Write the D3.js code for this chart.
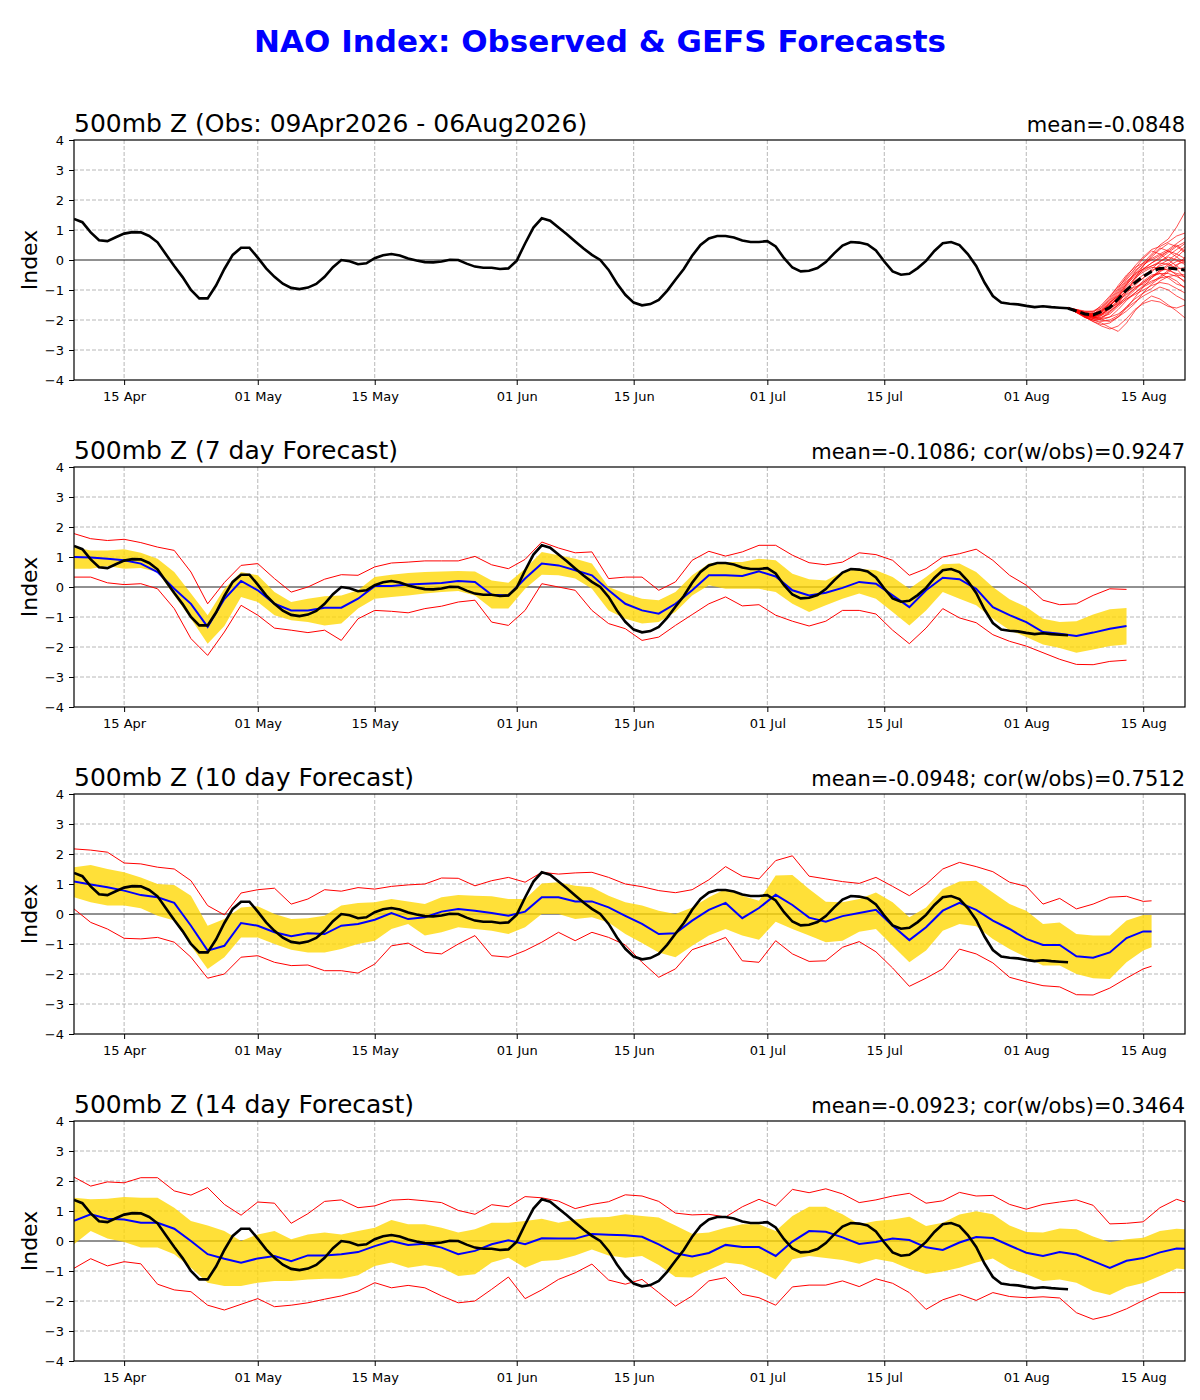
<!DOCTYPE html>
<html>
<head>
<meta charset="utf-8">
<script src="https://cdn.jsdelivr.net/npm/d3@7"></script>
<style>
body { margin: 0; background: #fff; }
svg { font-family: "DejaVu Sans", sans-serif; }
</style>
</head>
<body>
<svg id="chart" width="1200" height="1400"></svg>
<script>
// day 0 = 09 Apr 2026, axis runs to day 133 (20 Aug)
const startDay = Date.UTC(2026, 3, 9);
const lastDay = 133;
const tickLabels = ["2026-04-15", "2026-05-01", "2026-05-15", "2026-06-01", "2026-06-15",
                    "2026-07-01", "2026-07-15", "2026-08-01", "2026-08-15"];

// observed NAO, daily 09Apr - 06Aug
const obs = [
  1.37, 1.26, 0.92, 0.66, 0.63, 0.76, 0.88, 0.93, 0.92, 0.80,
  0.59, 0.19, -0.20, -0.57, -1.00, -1.28, -1.28, -0.85, -0.30, 0.17,
  0.41, 0.41, 0.08, -0.28, -0.56, -0.79, -0.93, -0.97, -0.92, -0.80,
  -0.56, -0.24, 0.00, -0.04, -0.14, -0.11, 0.06, 0.16, 0.20, 0.15,
  0.05, -0.02, -0.07, -0.08, -0.05, 0.01, 0.00, -0.12, -0.22, -0.26,
  -0.26, -0.30, -0.28, -0.02, 0.55, 1.08, 1.39, 1.31, 1.08, 0.86,
  0.62, 0.38, 0.17, 0.00, -0.33, -0.78, -1.16, -1.42, -1.51, -1.47,
  -1.33, -1.03, -0.66, -0.30, 0.14, 0.50, 0.72, 0.80, 0.80, 0.75,
  0.65, 0.60, 0.60, 0.63, 0.45, 0.06, -0.25, -0.38, -0.36, -0.27,
  -0.07, 0.22, 0.48, 0.60, 0.58, 0.52, 0.32, -0.05, -0.38, -0.49,
  -0.46, -0.27, -0.03, 0.30, 0.56, 0.60, 0.50, 0.20, -0.20, -0.75,
  -1.20, -1.42, -1.46, -1.48, -1.53, -1.57, -1.54, -1.57, -1.59, -1.61
];

// GEFS ensemble from day 119 (06Aug) to day 133
const ensStart = 119;
const ensMean = [-1.61, -1.70, -1.80, -1.83, -1.72, -1.58, -1.30, -1.00, -0.76, -0.55, -0.38, -0.28, -0.27, -0.30, -0.33];
const ensMembers = [
  [-1.6, -1.70, -1.85, -1.90, -1.80, -1.55, -1.20, -0.80, -0.40, -0.10, 0.20, 0.50, 0.70, 1.10, 1.60],
  [-1.6, -1.75, -1.90, -2.00, -2.10, -2.25, -2.38, -2.10, -1.70, -1.40, -1.20, -1.30, -1.50, -1.70, -1.93],
  [-1.6, -1.68, -1.80, -1.75, -1.50, -1.20, -0.90, -0.60, -0.30, 0.05, 0.30, 0.20, 0.00, -0.20, -0.40],
  [-1.6, -1.72, -1.82, -1.85, -1.70, -1.45, -1.10, -0.75, -0.45, -0.30, -0.10, 0.10, 0.30, 0.50, 0.30],
  [-1.6, -1.65, -1.75, -1.90, -2.00, -1.90, -1.65, -1.35, -1.10, -0.85, -0.70, -0.60, -0.55, -0.70, -0.95],
  [-1.6, -1.70, -1.90, -1.95, -1.85, -1.60, -1.35, -1.00, -0.70, -0.50, -0.35, -0.20, -0.10, -0.30, -0.60],
  [-1.6, -1.75, -1.85, -1.80, -1.60, -1.30, -0.95, -0.55, -0.20, 0.10, 0.35, 0.45, 0.60, 0.80, 0.90],
  [-1.6, -1.70, -1.80, -1.90, -1.95, -1.90, -1.80, -1.60, -1.40, -1.20, -1.05, -0.90, -1.00, -1.20, -1.35],
  [-1.6, -1.68, -1.78, -1.80, -1.65, -1.40, -1.20, -0.95, -0.80, -0.60, -0.30, -0.05, 0.10, 0.00, -0.15],
  [-1.6, -1.72, -1.88, -2.00, -1.95, -1.75, -1.50, -1.20, -0.95, -0.70, -0.50, -0.45, -0.60, -0.80, -0.90],
  [-1.6, -1.66, -1.72, -1.70, -1.55, -1.25, -0.85, -0.50, -0.25, -0.10, 0.05, 0.20, 0.35, 0.55, 0.75],
  [-1.6, -1.70, -1.85, -1.95, -2.00, -2.05, -1.90, -1.70, -1.45, -1.10, -0.80, -0.60, -0.40, -0.20, 0.10],
  [-1.6, -1.74, -1.86, -1.90, -1.80, -1.60, -1.45, -1.25, -1.00, -0.75, -0.55, -0.35, -0.30, -0.50, -0.75],
  [-1.6, -1.65, -1.70, -1.72, -1.60, -1.35, -1.00, -0.65, -0.35, -0.15, 0.00, 0.15, 0.30, 0.20, 0.05],
  [-1.6, -1.72, -1.83, -1.88, -1.75, -1.50, -1.20, -0.90, -0.60, -0.40, -0.25, -0.25, -0.35, -0.45, -0.50],
  [-1.6, -1.70, -1.82, -1.92, -1.90, -1.80, -1.55, -1.30, -1.15, -1.00, -0.85, -0.75, -0.80, -0.95, -1.10],
  [-1.6, -1.68, -1.78, -1.85, -1.75, -1.55, -1.25, -0.85, -0.45, -0.20, 0.10, 0.35, 0.55, 0.45, 0.25],
  [-1.6, -1.70, -1.80, -1.85, -1.80, -1.65, -1.40, -1.10, -0.85, -0.60, -0.40, -0.15, 0.00, 0.20, 0.45],
  [-1.6, -1.75, -1.92, -2.00, -2.05, -2.00, -1.85, -1.55, -1.30, -1.10, -0.95, -0.70, -0.55, -0.50, -0.55],
  [-1.6, -1.68, -1.75, -1.78, -1.70, -1.45, -1.15, -0.80, -0.55, -0.35, -0.20, -0.10, -0.15, -0.30, -0.25],
  [-1.6, -1.72, -1.90, -2.05, -2.15, -2.10, -1.90, -1.60, -1.25, -0.90, -0.60, -0.35, -0.15, 0.10, 0.35],
  [-1.6, -1.66, -1.74, -1.80, -1.72, -1.50, -1.25, -1.05, -0.90, -0.80, -0.60, -0.40, -0.20, -0.05, 0.00],
  [-1.6, -1.70, -1.85, -1.95, -1.92, -1.72, -1.45, -1.05, -0.60, -0.20, 0.15, 0.40, 0.30, 0.10, -0.10],
  [-1.6, -1.73, -1.88, -1.90, -1.85, -1.70, -1.50, -1.30, -1.10, -0.90, -0.75, -0.55, -0.35, -0.15, -0.05],
  [-1.6, -1.67, -1.76, -1.82, -1.68, -1.40, -1.05, -0.70, -0.50, -0.30, -0.20, -0.05, 0.15, 0.35, 0.55],
  [-1.6, -1.74, -1.90, -2.05, -2.20, -2.30, -2.20, -1.95, -1.65, -1.45, -1.35, -1.40, -1.55, -1.60, -1.50],
  [-1.6, -1.69, -1.80, -1.85, -1.70, -1.50, -1.30, -1.00, -0.65, -0.30, -0.10, 0.05, 0.25, 0.45, 0.60],
  [-1.6, -1.71, -1.84, -1.88, -1.82, -1.62, -1.35, -1.15, -0.95, -0.75, -0.55, -0.45, -0.45, -0.55, -0.70]
];

// forecast series: every 2nd day from day 0, last value on the final verifying day
// mean = blue, hi/lo = yellow band, max/min = red lines
const fc7End = 126;
const fc7Mean = [1.0, 0.98, 0.94, 0.89, 0.78, 0.5, -0.06, -0.56, -1.33, -0.4, 0.2, -0.11, -0.56, -0.78, -0.78, -0.69, -0.69, -0.39, 0.03, 0.03, 0.08, 0.11, 0.13, 0.2, 0.17, -0.26, -0.28, 0.28, 0.78, 0.72, 0.56, 0.39, -0.11,
  -0.56, -0.78, -0.89, -0.56, -0.11, 0.39, 0.39, 0.37, 0.52, 0.35, -0.11, -0.28, -0.19, -0.03, 0.17, 0.11, -0.28, -0.67, -0.11, 0.31, 0.26, -0.06, -0.67, -0.94, -1.17, -1.5, -1.56, -1.63, -1.52, -1.39, -1.3];
const fc7Hi = [1.33, 1.22, 1.22, 1.26, 1.14, 0.94, 0.5, -0.22, -0.94, -0.06, 0.5, 0.39, -0.17, -0.5, -0.39, -0.31, -0.28, -0.11, 0.33, 0.41, 0.47, 0.5, 0.52, 0.53, 0.52, 0.22, 0.14, 0.61, 1.17, 1.06, 0.94, 0.78, 0,
  -0.22, -0.39, -0.44, -0.17, 0.39, 0.78, 0.83, 0.83, 0.94, 0.89, 0.44, 0.26, 0.22, 0.5, 0.61, 0.56, 0.33, -0.06, 0.33, 0.76, 0.78, 0.5, 0, -0.41, -0.67, -1.06, -1.17, -1.14, -0.92, -0.74, -0.7];
const fc7Lo = [0.61, 0.61, 0.7, 0.61, 0.63, 0.5, -0.28, -1.06, -1.89, -1.3, -0.33, -0.5, -0.94, -1.11, -1.17, -1.28, -1.22, -0.72, -0.39, -0.33, -0.28, -0.22, -0.17, -0.13, -0.28, -0.72, -0.72, -0.06, 0.41, 0.39, 0.28, -0.06, -0.78,
  -1.06, -1.22, -1.17, -0.83, -0.28, 0.06, -0.06, -0.06, -0.06, -0.17, -0.56, -0.83, -0.61, -0.39, -0.22, -0.39, -0.83, -1.28, -0.78, -0.17, -0.39, -0.61, -1.06, -1.44, -1.67, -1.92, -2.03, -2.19, -2.08, -1.97, -1.92];
const fc7Max = [1.78, 1.61, 1.55, 1.59, 1.48, 1.33, 1.22, 0.5, -0.56, 0.15, 0.72, 0.78, 0.28, -0.17, 0, 0.26, 0.41, 0.39, 0.67, 0.8, 0.83, 0.87, 0.87, 0.87, 1.02, 0.74, 0.61, 0.92, 1.5, 1.3, 1.14, 1.17, 0.28,
  0.33, 0.33, -0.11, 0.17, 0.89, 1.19, 1.03, 1.17, 1.39, 1.39, 1.06, 0.81, 0.74, 0.83, 1.14, 1.08, 0.89, 0.39, 0.61, 1.0, 1.11, 1.26, 0.89, 0.39, 0.06, -0.44, -0.59, -0.56, -0.28, -0.06, -0.08];
const fc7Min = [0.33, 0.33, 0.14, 0.08, 0.11, -0.06, -0.72, -1.72, -2.28, -1.5, -0.61, -0.94, -1.37, -1.44, -1.52, -1.44, -1.78, -1.06, -0.78, -0.81, -0.86, -0.72, -0.64, -0.5, -0.44, -1.17, -1.28, -0.78, 0.11, 0, -0.11, -0.78, -1.22,
  -1.39, -1.78, -1.67, -1.28, -0.92, -0.56, -0.33, -0.63, -0.59, -0.94, -1.14, -1.3, -1.14, -0.78, -0.78, -0.9, -1.44, -1.89, -1.37, -0.72, -1.03, -1.19, -1.59, -1.81, -1.97, -2.19, -2.41, -2.58, -2.59, -2.48, -2.44];

const fc10End = 129;
const fc10Mean = [1.08, 0.98, 0.89, 0.78, 0.63, 0.56, 0.37, -0.39, -1.22, -1.06, -0.3, -0.39, -0.61, -0.74, -0.64, -0.67, -0.39, -0.33, -0.19, 0.03, -0.17, -0.11, 0.08, 0.17, 0.11, 0.03, -0.06, 0.08, 0.56, 0.56, 0.42, 0.42, 0.22,
  -0.06, -0.33, -0.67, -0.64, -0.22, 0.14, 0.37, -0.14, 0.2, 0.64, 0.3, -0.12, -0.26, -0.07, 0.03, 0.14, -0.39, -0.87, -0.44, 0.11, 0.37, 0.14, -0.22, -0.5, -0.83, -1.03, -1.03, -1.41, -1.46, -1.28, -0.8, -0.58, -0.58];
const fc10Hi = [1.56, 1.63, 1.5, 1.39, 1.22, 1.0, 0.97, 0.61, -0.39, -0.17, 0.22, 0.26, 0, -0.17, -0.14, -0.06, 0.28, 0.37, 0.39, 0.5, 0.42, 0.33, 0.56, 0.63, 0.61, 0.59, 0.5, 0.5, 1.02, 1.06, 0.94, 0.89, 0.61,
  0.39, 0.28, 0.11, 0, 0.22, 0.56, 0.83, 0.61, 0.44, 1.28, 1.3, 0.83, 0.41, 0.39, 0.5, 0.72, 0.39, -0.11, 0.22, 0.83, 1.08, 1.11, 0.72, 0.33, 0.11, -0.33, -0.28, -0.67, -0.72, -0.72, -0.22, -0.03, -0.03];
const fc10Lo = [0.56, 0.39, 0.28, 0.28, 0.19, -0.06, -0.22, -1.06, -1.83, -1.44, -0.78, -0.78, -1.0, -1.19, -1.28, -1.28, -1.17, -1.0, -0.89, -0.5, -0.33, -0.72, -0.61, -0.44, -0.5, -0.56, -0.67, -0.44, 0, 0, -0.17, -0.11, -0.28,
  -0.67, -0.97, -1.28, -1.44, -1.06, -0.72, -0.5, -0.72, -0.86, -0.26, -0.5, -0.72, -0.94, -0.89, -0.59, -0.5, -1.06, -1.61, -1.22, -0.56, -0.33, -0.41, -0.83, -1.17, -1.44, -1.72, -1.72, -2.0, -2.14, -2.17, -1.61, -1.22, -1.11];
const fc10Max = [2.17, 2.13, 2.06, 1.7, 1.67, 1.56, 1.5, 1.11, 0.28, -0.03, 0.7, 0.81, 0.86, 0.33, 0.5, 0.81, 0.76, 0.88, 0.83, 0.92, 0.97, 1.0, 1.2, 1.19, 0.94, 1.11, 1.22, 1.06, 1.39, 1.33, 1.37, 1.39, 1.22,
  1.0, 0.91, 0.78, 0.71, 0.81, 1.14, 1.58, 1.26, 1.17, 1.78, 1.94, 1.26, 1.17, 1.08, 1.02, 1.22, 0.92, 0.61, 0.99, 1.5, 1.72, 1.58, 1.41, 1.06, 0.92, 0.33, 0.52, 0.17, 0.33, 0.56, 0.59, 0.42, 0.44];
const fc10Min = [0.17, -0.28, -0.5, -0.81, -0.83, -0.78, -0.94, -1.44, -2.14, -2.0, -1.44, -1.39, -1.61, -1.72, -1.7, -1.89, -1.89, -1.97, -1.67, -1.06, -0.97, -1.28, -1.33, -1.0, -0.72, -1.39, -1.44, -1.22, -0.94, -0.61, -0.89, -0.61, -0.78,
  -1.03, -1.61, -2.11, -1.83, -1.19, -1.0, -0.78, -1.56, -1.61, -0.89, -1.33, -1.58, -1.56, -1.11, -0.92, -1.26, -1.8, -2.41, -2.14, -1.83, -1.17, -1.33, -1.63, -2.11, -2.26, -2.39, -2.43, -2.69, -2.7, -2.47, -2.14, -1.83, -1.74];

const fc14End = 133;
const fc14Mean = [0.67, 0.89, 0.74, 0.72, 0.61, 0.61, 0.41, 0, -0.44, -0.59, -0.72, -0.58, -0.5, -0.67, -0.48, -0.48, -0.44, -0.37, -0.17, 0, -0.13, -0.09, -0.22, -0.44, -0.33, -0.11, 0.02, -0.11, 0.09, 0.08, 0.08, 0.23, 0.21,
  0.19, 0.14, -0.11, -0.41, -0.52, -0.4, -0.13, -0.2, -0.2, -0.5, -0.02, 0.33, 0.31, 0.12, -0.1, -0.03, 0.08, 0.03, -0.21, -0.3, -0.05, 0.13, 0.1, -0.15, -0.39, -0.5, -0.37, -0.45, -0.67, -0.9, -0.66, -0.57, -0.38, -0.25, -0.26];
const fc14Hi = [1.44, 1.39, 1.41, 1.47, 1.44, 1.44, 1.11, 0.67, 0.52, 0.33, 0, 0.22, 0.33, 0.06, 0.22, 0.28, 0.22, 0.33, 0.44, 0.7, 0.56, 0.56, 0.44, 0.28, 0.39, 0.61, 0.61, 0.67, 0.74, 0.61, 0.72, 0.78, 0.8,
  0.89, 0.83, 0.78, 0.52, 0.24, 0.28, 0.44, 0.56, 0.56, 0.33, 0.83, 1.14, 1.14, 0.89, 0.56, 0.67, 0.72, 0.81, 0.5, 0.61, 0.88, 0.99, 0.89, 0.52, 0.3, 0.28, 0.42, 0.39, 0.15, -0.04, 0.06, 0.11, 0.33, 0.41, 0.39];
const fc14Lo = [-0.11, 0.33, 0.08, -0.03, -0.22, -0.22, -0.44, -0.89, -1.39, -1.5, -1.5, -1.39, -1.33, -1.33, -1.28, -1.26, -1.26, -1.14, -0.83, -0.72, -0.89, -0.81, -0.89, -1.17, -1.11, -0.72, -0.56, -0.89, -0.67, -0.63, -0.48, -0.28, -0.48,
  -0.56, -0.5, -0.8, -1.2, -1.22, -0.97, -0.72, -0.78, -1.0, -1.28, -0.61, -0.5, -0.57, -0.63, -0.76, -0.6, -0.7, -0.93, -1.1, -1.02, -0.89, -0.72, -0.58, -0.92, -1.1, -1.33, -1.28, -1.39, -1.67, -1.8, -1.53, -1.4, -1.17, -0.92, -0.94];
const fc14Max = [2.13, 1.83, 1.97, 1.94, 2.11, 2.11, 1.67, 1.53, 1.78, 1.22, 0.86, 1.3, 1.26, 0.59, 0.91, 1.32, 1.37, 1.11, 1.17, 1.36, 1.39, 1.34, 1.28, 1.02, 0.89, 1.21, 1.14, 1.48, 1.44, 1.33, 1.08, 1.22, 1.31,
  1.54, 1.5, 1.32, 0.93, 0.87, 0.89, 0.8, 1.14, 1.39, 1.17, 1.72, 1.61, 1.74, 1.57, 1.28, 1.37, 1.5, 1.59, 1.26, 1.34, 1.62, 1.5, 1.52, 1.22, 1.06, 1.22, 1.3, 1.37, 1.19, 0.57, 0.59, 0.64, 1.11, 1.39, 1.3];
const fc14Min = [-0.91, -0.59, -0.83, -0.69, -0.76, -1.44, -1.63, -1.69, -2.14, -2.3, -2.11, -1.92, -2.19, -2.14, -2.06, -1.94, -1.83, -1.67, -1.39, -1.56, -1.48, -1.56, -1.83, -2.06, -2.0, -1.61, -1.2, -1.92, -1.63, -1.28, -1.06, -0.77, -1.3,
  -1.44, -1.28, -1.72, -2.17, -1.83, -1.33, -1.22, -1.78, -1.89, -2.14, -1.53, -1.47, -1.47, -1.33, -1.52, -1.26, -1.41, -1.72, -2.28, -1.96, -1.78, -1.98, -1.72, -1.85, -1.89, -1.86, -1.9, -2.39, -2.61, -2.48, -2.26, -1.98, -1.72, -1.72, -1.72];

const panelTitles = ["500mb Z (Obs: 09Apr2026 - 06Aug2026)", "500mb Z (7 day Forecast)",
                     "500mb Z (10 day Forecast)", "500mb Z (14 day Forecast)"];
const panelStats = ["mean=-0.0848", "mean=-0.1086; cor(w/obs)=0.9247",
                    "mean=-0.0948; cor(w/obs)=0.7512", "mean=-0.0923; cor(w/obs)=0.3464"];

// ---- layout ----
const left = 74, right = 1185, plotH = 240;
const panelTops = [140, 467, 794, 1121];

const dayDate = d => new Date(startDay + d * 864e5);
const fcDays = end => d3.range(0, end, 2).concat([end]);

const x = d3.scaleUtc()
  .domain([dayDate(0), dayDate(lastDay)])
  .range([left, right]);
const y = d3.scaleLinear().domain([-4, 4]).range([plotH, 0]);
const tickDates = tickLabels.map(s => new Date(s + "T00:00:00Z"));

const svg = d3.select("#chart");

svg.append("text")
  .attr("x", 600).attr("y", 52)
  .attr("text-anchor", "middle")
  .attr("font-size", 31).attr("font-weight", "bold")
  .attr("fill", "#0000ff")
  .text("NAO Index: Observed & GEFS Forecasts");

svg.append("defs").append("clipPath").attr("id", "plotClip")
  .append("rect").attr("x", left).attr("y", 0).attr("width", right - left).attr("height", plotH);

// line helper for a series given day indexes
function seriesLine(days) {
  return d3.line()
    .x((v, i) => x(dayDate(days[i])))
    .y(v => y(v));
}

function drawPanel(p) {
  const g = svg.append("g").attr("transform", `translate(0,${panelTops[p]})`);

  // grid
  g.append("g").selectAll("line").data(tickDates).join("line")
    .attr("x1", d => x(d)).attr("x2", d => x(d))
    .attr("y1", 0).attr("y2", plotH)
    .attr("stroke", "#b0b0b0").attr("stroke-width", 0.9).attr("stroke-dasharray", "4,2");
  g.append("g").selectAll("line").data([-3, -2, -1, 1, 2, 3]).join("line")
    .attr("x1", left).attr("x2", right)
    .attr("y1", d => y(d)).attr("y2", d => y(d))
    .attr("stroke", "#b0b0b0").attr("stroke-width", 0.9).attr("stroke-dasharray", "4,2");

  const plot = g.append("g").attr("clip-path", "url(#plotClip)");

  plot.append("line")
    .attr("x1", left).attr("x2", right)
    .attr("y1", y(0)).attr("y2", y(0))
    .attr("stroke", "#222").attr("stroke-width", 1);

  const obsDays = d3.range(obs.length);

  if (p === 0) {
    plot.append("path").datum(obs)
      .attr("d", seriesLine(obsDays))
      .attr("fill", "none").attr("stroke", "#000").attr("stroke-width", 2.6);
    const ensDays = d3.range(ensStart, ensStart + ensMean.length);
    plot.append("g").selectAll("path").data(ensMembers).join("path")
      .attr("d", seriesLine(ensDays))
      .attr("fill", "none").attr("stroke", "#ff0000").attr("stroke-width", 0.8).attr("opacity", 0.85);
    plot.append("path").datum(ensMean)
      .attr("d", seriesLine(ensDays))
      .attr("fill", "none").attr("stroke", "#000").attr("stroke-width", 3)
      .attr("stroke-dasharray", "9,4");
  } else {
    const fc = [null,
      { end: fc7End, mean: fc7Mean, hi: fc7Hi, lo: fc7Lo, max: fc7Max, min: fc7Min },
      { end: fc10End, mean: fc10Mean, hi: fc10Hi, lo: fc10Lo, max: fc10Max, min: fc10Min },
      { end: fc14End, mean: fc14Mean, hi: fc14Hi, lo: fc14Lo, max: fc14Max, min: fc14Min }][p];
    const days = fcDays(fc.end);
    const band = d3.area()
      .x((v, i) => x(dayDate(days[i])))
      .y0((v, i) => y(fc.lo[i]))
      .y1(v => y(v));
    plot.append("path").datum(fc.hi)
      .attr("d", band)
      .attr("fill", "#ffd700").attr("opacity", 0.78);
    [fc.max, fc.min].forEach(s => {
      plot.append("path").datum(s)
        .attr("d", seriesLine(days))
        .attr("fill", "none").attr("stroke", "#ff0000").attr("stroke-width", 1);
    });
    plot.append("path").datum(fc.mean)
      .attr("d", seriesLine(days))
      .attr("fill", "none").attr("stroke", "#0000ff").attr("stroke-width", 2);
    plot.append("path").datum(obs)
      .attr("d", seriesLine(obsDays))
      .attr("fill", "none").attr("stroke", "#000").attr("stroke-width", 2.6);
  }

  // frame
  g.append("rect")
    .attr("x", left).attr("y", 0).attr("width", right - left).attr("height", plotH)
    .attr("fill", "none").attr("stroke", "#000").attr("stroke-width", 1.2);

  // axes
  const xAxis = g.append("g").attr("transform", `translate(0,${plotH})`)
    .call(d3.axisBottom(x).tickValues(tickDates).tickFormat(d3.utcFormat("%d %b"))
      .tickSize(5).tickPadding(7));
  const yAxis = g.append("g").attr("transform", `translate(${left},0)`)
    .call(d3.axisLeft(y).ticks(9).tickSize(5).tickPadding(5));
  [xAxis, yAxis].forEach(a => {
    a.select(".domain").remove();
    a.selectAll("text").attr("font-size", 13).attr("font-family", "DejaVu Sans").attr("fill", "#000");
    a.selectAll("line").attr("stroke", "#000").attr("stroke-width", 1);
  });

  g.append("text")
    .attr("transform", `translate(37,${plotH / 2}) rotate(-90)`)
    .attr("text-anchor", "middle")
    .attr("font-size", 22)
    .text("Index");

  g.append("text")
    .attr("x", left).attr("y", -8)
    .attr("font-size", 25)
    .text(panelTitles[p]);
  g.append("text")
    .attr("x", right).attr("y", -8)
    .attr("text-anchor", "end")
    .attr("font-size", 21)
    .text(panelStats[p]);
}

[0, 1, 2, 3].forEach(drawPanel);
</script>
</body>
</html>
